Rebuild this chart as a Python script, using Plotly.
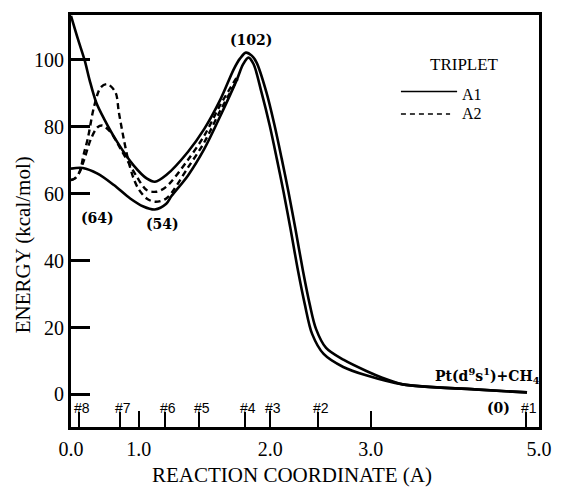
import plotly.graph_objects as go

# ---- axis (non-uniform reaction coordinate; positions in % of axis length) ----
X_TICK_LABELS = ["0.0", "1.0", "2.0", "3.0", "5.0"]
X_TICK_POS = [0.0, 14.48, 42.6, 64.07, 100.0]
POINT_LABELS = ["#8", "#7", "#6", "#5", "#4", "#3", "#2", "#1"]
POINT_POS = [1.74, 10.43, 20.08, 27.28, 37.08, 42.6, 52.82, 97.31]
Y_TICKS = [0, 20, 40, 60, 80, 100]

# ---- A1 (solid) : outer branch ----
a1_outer_x = [0.0, 1.47, 2.94, 3.99, 5.39, 7.07, 9.86, 13.37, 16.16, 17.94, 20.36, 24.97,
              28.48, 31.96, 34.77, 36.1, 37.36, 38.62, 39.66, 41.76, 43.5, 45.02, 46.46,
              47.93, 49.57, 51.0, 52.35, 54.5, 58.3, 63.1, 66.5, 70.87, 86.25, 97.44]
a1_outer_y = [113.2, 106.3, 99.8, 93.9, 87.3, 82.4, 75.5, 68.5, 64.6, 63.6, 65.6, 72.5,
              79.4, 88.3, 97.2, 100.4, 102.2, 101.3, 99.2, 90.3, 80.4, 70.5, 60.6,
              49.7, 36.9, 27.0, 19.6, 13.9, 10.3, 7.0, 5.0, 3.0, 1.5, 0.6]
# ---- A1 (solid) : inner branch ----
a1_inner_x = [0.0, 2.52, 5.67, 9.17, 12.65, 15.47, 17.9, 20.36, 21.47, 24.97, 28.48, 31.96,
              35.47, 36.73, 37.92, 39.0, 40.71, 42.46, 43.97, 45.41, 46.88, 48.52, 49.95,
              51.52, 53.98, 58.17, 63.06, 70.87, 86.25, 97.44]
a1_inner_y = [67.5, 67.7, 66.0, 62.6, 58.6, 56.2, 55.3, 57.0, 59.3, 65.4, 73.4, 83.4,
              94.2, 98.6, 100.7, 98.8, 90.3, 80.4, 70.5, 60.6, 49.7, 36.9, 27.0,
              18.1, 12.1, 8.2, 5.7, 3.0, 1.5, 0.6]
# ---- A2 (dashed) ----
a2_high_x = [0.0, 0.84, 1.83, 2.73, 3.57, 4.97, 6.36, 7.76, 9.51, 10.22, 11.27, 12.32,
             13.37, 14.48, 16.16, 17.9, 20.36, 24.97, 28.48, 31.96, 35.6]
a2_high_y = [64.1, 64.6, 66.5, 71.9, 76.4, 86.3, 91.8, 92.8, 90.3, 84.4, 76.4, 69.5,
             64.6, 61.3, 58.6, 57.6, 58.6, 67.8, 75.4, 85.0, 94.3]
a2_low_x = [0.0, 0.84, 1.83, 2.88, 4.26, 5.67, 6.72, 8.46, 10.56, 12.65, 14.06, 16.16,
            18.26, 20.36, 24.97, 28.48, 31.96, 35.6]
a2_low_y = [64.1, 64.6, 66.5, 70.5, 76.4, 79.9, 80.4, 78.4, 73.5, 68.5, 65.1, 61.1,
            60.6, 62.1, 70.1, 77.4, 86.7, 95.2]

# ---- energy labels ----
E_LABELS = ["(102)", "(64)", "(54)", "(0)"]
E_LABEL_X = [38.5, 5.56, 19.62, 91.4]
E_LABEL_Y = [105.9, 52.7, 51.0, -3.95]

fig = go.Figure()
SOLID = dict(color="black", width=2.6, shape="spline", smoothing=0.9)
DASH = dict(color="black", width=2.4, dash="6px,4px", shape="spline", smoothing=0.9)
fig.add_trace(go.Scatter(x=a1_outer_x, y=a1_outer_y, mode="lines", line=SOLID, name="A1"))
fig.add_trace(go.Scatter(x=a1_inner_x, y=a1_inner_y, mode="lines", line=SOLID, name="A1"))
fig.add_trace(go.Scatter(x=a2_high_x, y=a2_high_y, mode="lines", line=DASH, name="A2"))
fig.add_trace(go.Scatter(x=a2_low_x, y=a2_low_y, mode="lines", line=DASH, name="A2"))

LBL_FONT = dict(family="DejaVu Serif", size=14, color="black", weight="bold")
for t, x, y in zip(E_LABELS, E_LABEL_X, E_LABEL_Y):
    fig.add_annotation(x=x, y=y, text=t, showarrow=False, font=LBL_FONT,
                       xanchor="center", yanchor="middle")
fig.add_annotation(xref="paper", x=1.006, y=5.6, xanchor="right", yanchor="middle",
                   text="Pt(d<sup>9</sup>s<sup>1</sup>)+CH<sub>4</sub>",
                   showarrow=False, font=LBL_FONT)
for t, x in zip(POINT_LABELS, POINT_POS):
    fig.add_annotation(x=x, y=-3.95, text=t, showarrow=False, xshift=3,
                       xanchor="center", yanchor="middle",
                       font=dict(family="Liberation Sans", size=14, color="black"))

# legend
SERIF = dict(family="Liberation Serif", size=16, color="black")
fig.add_annotation(xref="paper", yref="paper", x=0.8416, y=0.8795, text="TRIPLET", showarrow=False,
                   xanchor="center", yanchor="middle",
                   font=dict(family="Liberation Serif", size=17, color="black"))
fig.add_annotation(xref="paper", yref="paper", x=0.831, y=0.808, xanchor="left", yanchor="middle",
                   text="A1", showarrow=False, font=SERIF)
fig.add_annotation(xref="paper", yref="paper", x=0.831, y=0.762, xanchor="left", yanchor="middle",
                   text="A2", showarrow=False, font=SERIF)
fig.add_shape(type="line", xref="paper", yref="paper", x0=0.705, x1=0.825, y0=0.8145, y1=0.8145,
              line=dict(color="black", width=1.5))
fig.add_shape(type="line", xref="paper", yref="paper", x0=0.705, x1=0.810, y0=0.760, y1=0.760,
              line=dict(color="black", width=1.5, dash="5px,4px"))

# axis titles
TITLE = dict(family="Liberation Serif", size=21, color="black")
fig.add_annotation(xref="paper", yref="paper", x=0.472, y=-0.117, text="REACTION COORDINATE (A)",
                   xanchor="center", yanchor="middle", showarrow=False, font=TITLE)
fig.add_annotation(xref="paper", yref="paper", x=-0.1007, y=0.443, text="ENERGY (kcal/mol)", textangle=-90,
                   xanchor="center", yanchor="middle", showarrow=False, font=TITLE)

fig.update_xaxes(range=[0, 100], tickmode="array", tickvals=X_TICK_POS, ticktext=X_TICK_LABELS,
                 ticks="inside", ticklen=16, tickwidth=2, tickcolor="black",
                 minor=dict(tickmode="array", tickvals=POINT_POS, ticks="inside", ticklen=15,
                            tickwidth=2, tickcolor="black"),
                 showline=True, linewidth=3, linecolor="black", mirror=True,
                 showgrid=False, zeroline=False, ticklabelstandoff=2,
                 tickfont=dict(family="Liberation Serif", size=20, color="black"))
fig.update_yaxes(range=[-9.74, 113.45], tickmode="array", tickvals=Y_TICKS,
                 ticks="inside", ticklen=19, tickwidth=2.5, tickcolor="black",
                 showline=True, linewidth=3, linecolor="black", mirror=True,
                 showgrid=False, zeroline=False, ticklabelstandoff=0,
                 tickfont=dict(family="Liberation Serif", size=20, color="black"))
fig.update_layout(width=564, height=488, autosize=False, showlegend=False,
                  margin=dict(l=71, r=16, t=12, b=61),
                  paper_bgcolor="white", plot_bgcolor="white")
fig.write_html("out.html")
